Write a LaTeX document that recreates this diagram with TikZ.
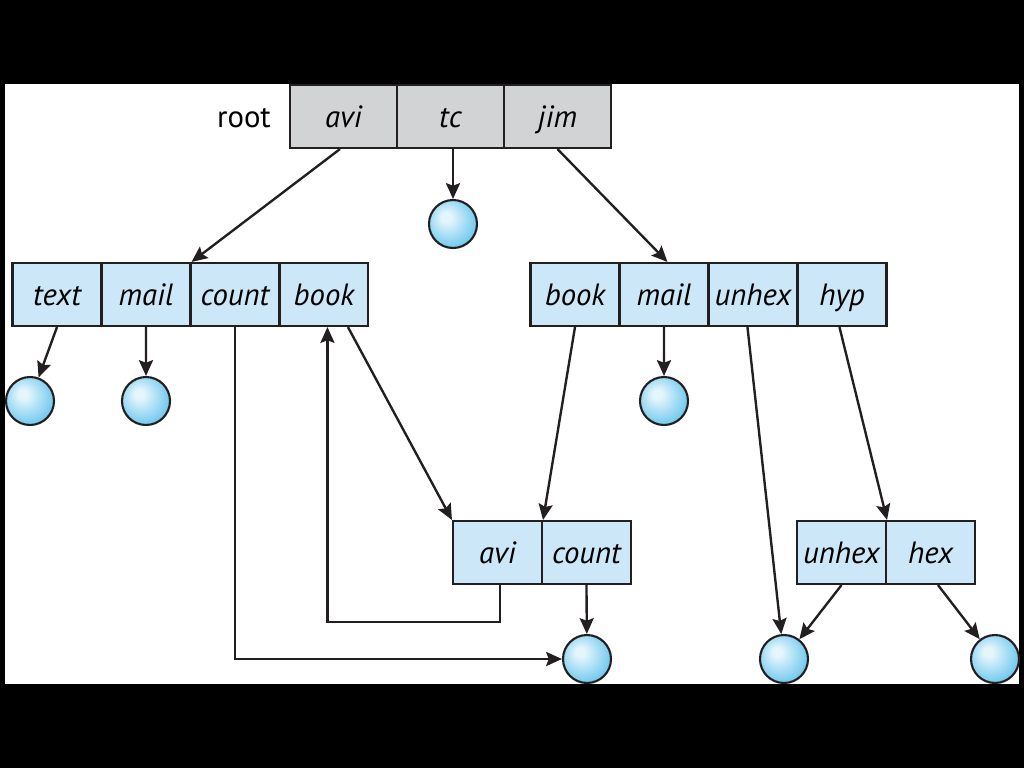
\documentclass[tikz,border=0pt]{standalone}
\usepackage{fontspec}
\setmainfont{PT Sans}
\usetikzlibrary{arrows.meta}
\definecolor{inkline}{RGB}{35,31,32}
\definecolor{cellblue}{RGB}{204,232,248}
\definecolor{rootgray}{RGB}{209,211,212}
\definecolor{leafin}{RGB}{228,245,252}
\definecolor{leafout}{RGB}{105,198,238}
\pgfdeclareradialshading{leafshade}{\pgfqpoint{-8bp}{8bp}}{color(0bp)=(leafin); color(5bp)=(leafin); color(30bp)=(leafout); color(50bp)=(leafout)}
\tikzset{
  cell/.style={rectangle, draw=inkline, line width=1.2pt, fill=cellblue, minimum width=1.78cm, minimum height=1.26cm, inner sep=0pt, text height=13pt, text depth=1pt, font=\fontsize{17.5}{19}\selectfont\itshape},
  rootcell/.style={cell, fill=rootgray, minimum width=2.14cm},
  leaf/.style={circle, draw=inkline, line width=1.2pt, minimum size=0.96cm, inner sep=0pt, shading=leafshade},
  link/.style={->, line width=1.35pt, draw=inkline},
}
\begin{document}
\begin{tikzpicture}[x=0.02cm, y=-0.02cm, >={Stealth[length=9pt, width=8pt, inset=1.5pt]}]
    \fill[black] (0,0) rectangle (1024,768);
    \fill[white] (5,84) rectangle (1019,684);

    % root directory
    \node[rootcell] (r_avi) at (343.5,116.5) {avi};
    \node[rootcell, xshift=2.14cm] (r_tc) at (r_avi) {tc};
    \node[rootcell, xshift=2.14cm] (r_jim) at (r_tc) {jim};
    \node[font=\fontsize{17.5}{19}\selectfont] (rootlbl) at (244,118) {root};

    % avi's directory
    \node[cell] (l_text) at (57,294.5) {text};
    \node[cell, xshift=1.78cm] (l_mail) at (l_text) {mail};
    \node[cell, xshift=1.78cm] (l_count) at (l_mail) {count};
    \node[cell, xshift=1.78cm] (l_book) at (l_count) {book};

    % jim's directory
    \node[cell] (j_book) at (575,294.5) {book};
    \node[cell, xshift=1.78cm] (j_mail) at (j_book) {mail};
    \node[cell, xshift=1.78cm] (j_unhex) at (j_mail) {unhex};
    \node[cell, xshift=1.78cm] (j_hyp) at (j_unhex) {hyp};

    % shared directory and hyp
    \node[cell] (s_avi) at (497.5,552.5) {avi};
    \node[cell, xshift=1.78cm] (s_count) at (s_avi) {count};
    \node[cell] (h_unhex) at (841.5,552.5) {unhex};
    \node[cell, xshift=1.78cm] (h_hex) at (h_unhex) {hex};

    % files
    \node[leaf] (f_tc) at (453,224) {};
    \node[leaf] (f_text) at (30,401) {};
    \node[leaf] (f_mail) at (146,401) {};
    \node[leaf] (f_jmail) at (664,401) {};
    \node[leaf] (f_count) at (587,659) {};
    \node[leaf] (f_unhex) at (784,659) {};
    \node[leaf] (f_hex) at (995,659) {};

    \draw[link] ([xshift=-0.07cm]r_avi.south) -- (l_mail.north east);
    \draw[link] (r_tc.south -| f_tc.north) -- (f_tc);
    \draw[link] (r_jim.south) -- ([xshift=0.07cm]j_mail.north);
    \draw[link] (l_text.south) -- (f_text);
    \draw[link] (l_mail.south) -- (f_mail);
    \draw[link] (l_count.south) |- (f_count);
    \draw[link] ([xshift=0.48cm]l_book.south) -- (s_avi.north west);
    \draw[link] ([xshift=0.05cm]s_avi.south) -- ++(0,-0.74cm) -| ([xshift=0.07cm]l_book.south);
    \draw[link] (j_book.south) -- (s_avi.north east);
    \draw[link] (j_mail.south) -- (f_jmail);
    \draw[link] ([xshift=-0.11cm]j_unhex.south) -- (f_unhex);
    \draw[link] ([xshift=-0.05cm]j_hyp.south) -- (h_unhex.north east);
    \draw[link] (s_count.south) -- (f_count);
    \draw[link] (h_unhex.south) -- (f_unhex);
    \draw[link] ([xshift=0.15cm]h_hex.south) -- (f_hex);
\end{tikzpicture}
\end{document}
